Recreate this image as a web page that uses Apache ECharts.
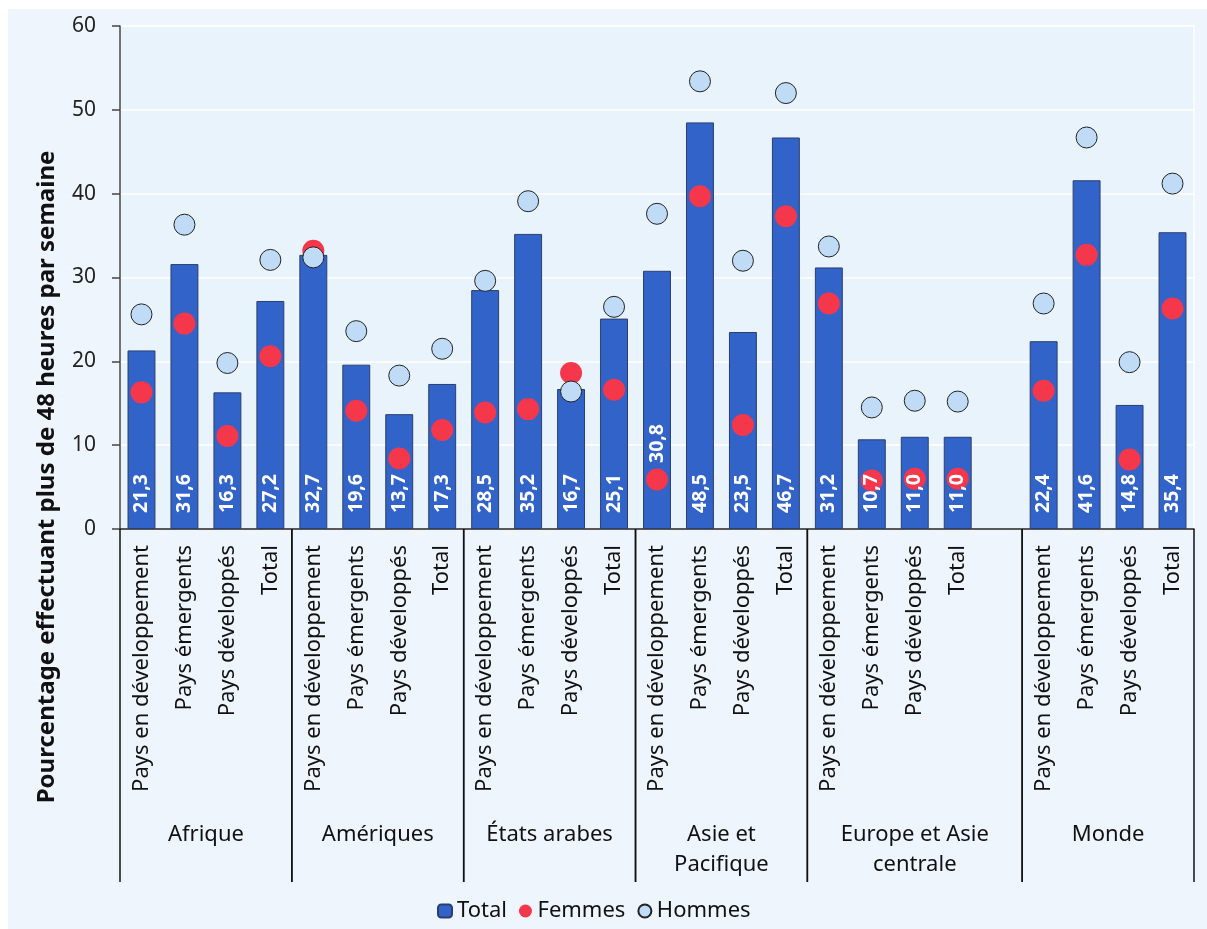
<!DOCTYPE html>
<html>
<head>
<meta charset="utf-8">
<script src="https://cdn.jsdelivr.net/npm/echarts@6/dist/echarts.min.js"></script>
<style>
  html, body { margin: 0; padding: 0; background: #ffffff; }
  #panel { position: absolute; left: 8px; top: 9px; width: 1199px; height: 920px; background: #eef5fd; }
  #chart { position: absolute; left: 0; top: 0; width: 1207px; height: 929px; }
</style>
</head>
<body>
<div id="panel"></div>
<div id="chart"></div>
<script>
// Regions and how many category slots each one takes on the x axis
const regions = ['Afrique', 'Amériques', 'États arabes', 'Asie et\nPacifique', 'Europe et Asie\ncentrale', 'Monde'];
const regionSlots = [4, 4, 4, 4, 5, 4];

// Country-group labels, one per slot (the empty slot closes the Europe block)
const categories = [
  'Pays en développement', 'Pays émergents', 'Pays développés', 'Total',
  'Pays en développement', 'Pays émergents', 'Pays développés', 'Total',
  'Pays en développement', 'Pays émergents', 'Pays développés', 'Total',
  'Pays en développement', 'Pays émergents', 'Pays développés', 'Total',
  'Pays en développement', 'Pays émergents', 'Pays développés', 'Total', '',
  'Pays en développement', 'Pays émergents', 'Pays développés', 'Total'
];

// Share working more than 48 hours per week (%)
const totalValues = [
  21.3, 31.6, 16.3, 27.2,
  32.7, 19.6, 13.7, 17.3,
  28.5, 35.2, 16.7, 25.1,
  30.8, 48.5, 23.5, 46.7,
  31.2, 10.7, 11.0, 11.0, null,
  22.4, 41.6, 14.8, 35.4
];
const femmesValues = [
  16.3, 24.5, 11.1, 20.6,
  33.2, 14.1, 8.4, 11.8,
  13.9, 14.3, 18.6, 16.6,
  5.9, 39.7, 12.4, 37.3,
  26.9, 5.8, 6.0, 6.0, null,
  16.5, 32.7, 8.3, 26.3
];
const hommesValues = [
  25.6, 36.3, 19.8, 32.1,
  32.4, 23.6, 18.3, 21.5,
  29.6, 39.1, 16.4, 26.5,
  37.6, 53.4, 32.0, 52.0,
  33.7, 14.5, 15.3, 15.2, null,
  26.9, 46.7, 19.9, 41.2
];
const yTicks = { min: 0, max: 60, interval: 10 };

const FONT = '"Noto Sans", "Open Sans", sans-serif';

// Build [startSlot, endSlot, 0] spans for the region brackets
const regionSpans = [];
let slot = 0;
regionSlots.forEach(n => { regionSpans.push([slot, slot + n - 1, 0]); slot += n; });

// Value labels sit on a transparent copy of the bars so they stay above the dots;
// the one label that would fall under a red dot in a tall bar is lifted above it
const labelData = totalValues.map((v, i) => {
  if (v == null) return null;
  const item = { value: v };
  if (femmesValues[i] != null && femmesValues[i] < 8 && v > 25) {
    item.label = { distance: 66 };
  }
  return item;
});

const chart = echarts.init(document.getElementById('chart'), null, { renderer: 'canvas' });

chart.setOption({
  backgroundColor: 'transparent',
  animation: false,
  textStyle: { fontFamily: FONT },
  grid: {
    left: 120, right: 13, top: 26, bottom: 400,
    show: true, backgroundColor: '#e9f3fc', borderColor: '#ffffff', borderWidth: 1.5
  },
  legend: {
    left: 432, top: 895,
    itemWidth: 14, itemHeight: 13, itemGap: 12,
    textStyle: { fontSize: 22, color: '#111', fontFamily: FONT },
    data: ['Total', 'Femmes', 'Hommes']
  },
  graphic: [{
    type: 'text', x: 47, y: 477, rotation: Math.PI / 2,
    style: {
      text: 'Pourcentage effectuant plus de 48 heures par semaine',
      font: 'bold 24px ' + FONT, fill: '#111', align: 'center', verticalAlign: 'middle'
    }
  }],
  xAxis: {
    type: 'category',
    data: categories,
    axisLine: { lineStyle: { color: '#222', width: 1.5 } },
    axisTick: { length: 274, interval: 0, lineStyle: { color: '#111', width: 1.5 } },
    axisLabel: { interval: 0, rotate: 90, margin: 16, fontSize: 22, color: '#111', fontFamily: FONT },
    splitLine: { show: false }
  },
  yAxis: {
    type: 'value',
    min: yTicks.min, max: yTicks.max, interval: yTicks.interval,
    axisLine: { show: true, lineStyle: { color: '#444', width: 1.5 } },
    axisTick: { show: true, length: 8, lineStyle: { color: '#444', width: 1.5 } },
    axisLabel: { fontSize: 21, color: '#222', margin: 24, fontFamily: FONT },
    splitLine: { lineStyle: { color: '#ffffff', width: 1.5 } }
  },
  series: [
    {
      name: 'Total', type: 'bar', data: totalValues, barWidth: '65%', z: 2,
      itemStyle: { color: '#3163c8', borderColor: '#2b3f6e', borderWidth: 1 }
    },
    {
      name: 'Femmes', type: 'scatter', data: femmesValues, symbol: 'circle', symbolSize: 22, z: 3,
      itemStyle: { color: '#f5374c', opacity: 1 }
    },
    {
      name: 'Hommes', type: 'scatter', data: hommesValues, symbol: 'circle', symbolSize: 21, z: 4,
      itemStyle: { color: '#bfdbf6', borderColor: '#222', borderWidth: 1, opacity: 1 }
    },
    {
      name: 'Total (valeurs)', type: 'bar', data: labelData, barWidth: '65%', barGap: '-100%', z: 6,
      silent: true,
      itemStyle: { color: 'rgba(0,0,0,0)', borderWidth: 0 },
      label: {
        show: true, position: 'insideBottom', rotate: 90, align: 'left', verticalAlign: 'middle',
        distance: 16, color: '#ffffff', fontWeight: 'bold', fontSize: 19.5, fontFamily: FONT,
        overflow: 'none',
        formatter: p => (p.value == null ? '' : p.value.toFixed(1).replace('.', ','))
      },
      labelLayout: { hideOverlap: false }
    },
    {
      // Region brackets below the axis: dividers and region names
      type: 'custom', name: 'regions', silent: true, clip: false, z: 1,
      encode: { x: [0, 1], y: 2 },
      data: regionSpans,
      renderItem: (params, api) => {
        const band = api.size([1, 0])[0];
        const p0 = api.coord([api.value(0), 0]);
        const p1 = api.coord([api.value(1), 0]);
        const x0 = p0[0] - band / 2;
        const x1 = p1[0] + band / 2;
        const y = p0[1];
        const line = x => ({
          type: 'line',
          shape: { x1: x, y1: y, x2: x, y2: y + 353 },
          style: { stroke: '#111', lineWidth: 1.5 }
        });
        return {
          type: 'group',
          children: [
            line(x0), line(x1),
            {
              type: 'text', x: (x0 + x1) / 2, y: y + 291,
              style: {
                text: regions[params.dataIndex], font: '22px ' + FONT, fill: '#111',
                align: 'center', verticalAlign: 'top', lineHeight: 30
              }
            }
          ]
        };
      }
    }
  ]
});
</script>
</body>
</html>
